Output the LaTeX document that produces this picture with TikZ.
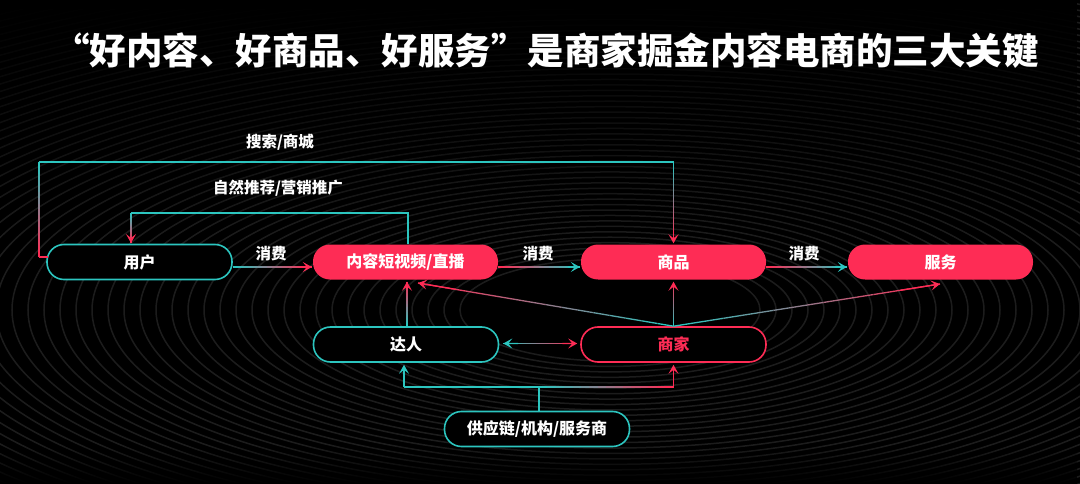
\documentclass[tikz,border=0pt]{standalone}
\usepackage{fontspec}
\newfontfamily\cjk{Noto Sans CJK SC}
\usetikzlibrary{arrows.meta,calc,fadings}
\definecolor{tkred}{HTML}{FE2C55}
\definecolor{tkteal}{HTML}{2CC5BF}
\definecolor{ring}{HTML}{5A5A5A}
\tikzset{
  box/.style={rounded corners=17pt, minimum width=185pt, minimum height=35pt, inner sep=0pt,
    font=\cjk\bfseries\fontsize{16}{18}\selectfont, text=white},
  redbox/.style={box, fill=tkred},
  tealbox/.style={box, draw=tkteal, line width=1.6pt, fill=black},
  redline/.style={box, draw=tkred, line width=1.6pt, fill=black, text=tkred},
  lbl/.style={font=\cjk\bfseries\fontsize{15.5}{18}\selectfont, text=white},
  tip/.style={-{Stealth[length=9pt,width=10pt,inset=4pt]}},
  conn/.style={line width=1.3pt},
}
% gradient straight segment: #1 from, #2 to, #3 start colour, #4 end colour
\newcommand\gseg[4]{%
  \foreach \i in {0,...,15}{%
    \pgfmathsetmacro\ga{\i/16}\pgfmathsetmacro\gb{(\i+1)/16}%
    \pgfmathtruncatemacro\gp{100-100*\i/15}%
    \draw[conn,color=#3!\gp!#4] ($(#1)!\ga!(#2)$) -- ($(#1)!\gb!(#2)$);}}
% gradient arrow
\newcommand\garrow[4]{%
  \gseg{#1}{#2}{#3}{#4}%
  \draw[conn,tip,color=#4] ($(#1)!0.85!(#2)$) -- (#2);}
\begin{document}
\begin{tikzpicture}[x=1pt,y=-1pt]
\useasboundingbox (0,0) rectangle (1080,484);
\fill[black] (0,0) rectangle (1080,484);
% background rings
\begin{scope}
\clip (0,0) rectangle (1080,484);
\foreach \r in {150,166,...,1500}{
  \draw[ring, line width=1.5pt, opacity=0.32] (610,310) ellipse ({\r pt} and {0.34*\r pt});
}
\fill[black, path fading=south] (0,0) rectangle (1080,240);
\fill[black, path fading=north] (0,445) rectangle (1080,484);
\end{scope}

% title
\node[font=\cjk\bfseries\fontsize{36.5}{42}\selectfont, text=white, anchor=center] (title) at (546,51) {“好内容、好商品、好服务”是商家掘金内容电商的三大关键};

% nodes
\node[tealbox] (u) at (139.5,262) {用户};
\node[redbox]  (c) at (405.5,262) {内容短视频/直播};
\node[redbox]  (g) at (673.5,262) {商品};
\node[redbox]  (s) at (940.5,262) {服务};
\node[tealbox] (d) at (406,344.5) {达人};
\node[redline] (m) at (673.5,344.5) {商家};
\node[tealbox] (p) at (537,429) {供应链/机构/服务商};

% labels
\node[lbl] (l1) at (280,142) {搜索/商城};
\node[lbl] (l2) at (278,188) {自然推荐/营销推广};
\node[lbl] (l3) at (271,254) {消费};
\node[lbl] (l4) at (538,254) {消费};
\node[lbl] (l5) at (804,254) {消费};

% 搜索/商城 loop
\coordinate (s0) at ($(u.west)+(2,-5)$);
\coordinate (s1) at (39,257);
\coordinate (s2) at (39,162);
\coordinate (s3) at (673.5,162);
\coordinate (s4) at ($(g.north)+(0,-1)$);
\draw[conn,tkred] (s0) -- (s1);
\gseg{s1}{s2}{tkred}{tkteal}
\draw[conn,tkteal] (s2) -- (s3);
\garrow{s3}{s4}{tkteal}{tkred}

% 自然推荐 loop
\coordinate (r0) at (408,244);
\coordinate (r1) at (408,213);
\coordinate (r2) at (131,213);
\coordinate (r3) at (131,243);
\draw[conn,tkteal] (r0) -- (r1) -- (r2);
\garrow{r2}{r3}{tkteal}{tkred}

% consumption arrows
\coordinate (a0) at ($(u.east)+(0,5)$);
\coordinate (a1) at ($(c.west)+(-1,5)$);
\garrow{a0}{a1}{tkteal}{tkred}
\coordinate (b0) at ($(c.east)+(0,5)$);
\coordinate (b1) at ($(g.west)+(-1,5)$);
\garrow{b0}{b1}{tkred}{tkteal}
\coordinate (e0) at ($(g.east)+(0,5)$);
\coordinate (e1) at ($(s.west)+(-1,5)$);
\garrow{e0}{e1}{tkred}{tkteal}

% from 商家 upward
\coordinate (m0) at (m.north);
\coordinate (mg) at ($(g.south)+(0,2)$);
\coordinate (mc) at (418,283);
\coordinate (ms) at (940,284);
\garrow{m0}{mg}{tkteal}{tkred}
\garrow{m0}{mc}{tkteal}{tkred}
\garrow{m0}{ms}{tkteal}{tkred}

% 达人 upward
\coordinate (d0) at ($(d.north)+(1,0)$);
\coordinate (dc) at ($(c.south)+(1.5,2)$);
\garrow{d0}{dc}{tkteal}{tkred}

% 达人 <-> 商家
\coordinate (x0) at ($(d.east)+(4,-1)$);
\coordinate (x1) at ($(m.west)+(-3,-1)$);
\gseg{x0}{x1}{tkteal}{tkred}
\draw[conn,tip,tkred] ($(x0)!0.8!(x1)$) -- (x1);
\draw[conn,tip,tkteal] ($(x0)!0.2!(x1)$) -- (x0);

% supply chain
\coordinate (p0) at ($(p.north)+(2,0)$);
\coordinate (p1) at (539,387);
\coordinate (p2) at (404,387);
\coordinate (p3) at (673.5,387);
\coordinate (pd) at ($(d.south)+(-2,2)$);
\coordinate (pm) at ($(m.south)+(0,2)$);
\draw[conn,tkteal] (p0) -- (p1) -- (p2);
\draw[conn,tip,tkteal] (p2) -- (pd);
\gseg{p1}{p3}{tkteal}{tkred}
\draw[conn,tip,tkred] (p3) -- (pm);
\end{tikzpicture}
\end{document}
